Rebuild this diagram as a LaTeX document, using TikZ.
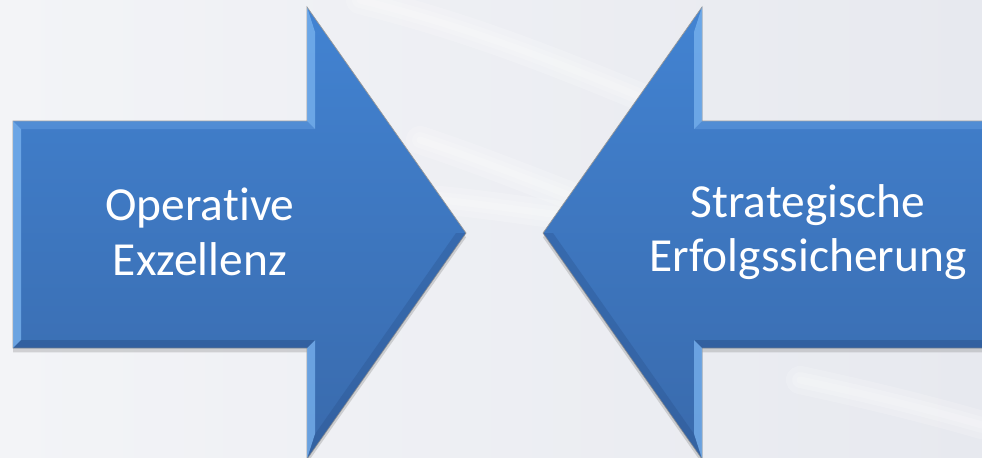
\documentclass[tikz,border=0pt]{standalone}
\usepackage{fontspec}
\setmainfont{Carlito}[Ligatures={NoCommon}]
\usepackage{xcolor}
\usepackage{tikz}
\usetikzlibrary{shadows}
\definecolor{arrowtop}{RGB}{66,131,210}
\definecolor{arrowbot}{RGB}{57,106,172}
\definecolor{bevellight}{RGB}{122,180,240}
\definecolor{beveldark}{RGB}{40,78,135}
\definecolor{bgleft}{RGB}{243,244,247}
\definecolor{bgright}{RGB}{231,233,239}

\begin{document}
\begin{tikzpicture}[
    x=0.02cm, y=-0.02cm,
    arrowshape/.style={top color=arrowtop, bottom color=arrowbot, draw=black!40, line width=0.4pt,
      drop shadow={opacity=0.3, shadow xshift=0pt, shadow yshift=-2.5pt}},
    lightfacet/.style={fill=bevellight, fill opacity=0.75},
    darkfacet/.style={fill=beveldark, fill opacity=0.45},
    arrowtext/.style={text=white, font=\fontsize{27}{31}\selectfont, align=center},
    streak/.style={draw=white, line cap=round, draw opacity=0.18},
  ]
    \clip (0,0) rectangle (982,457);
    \shade[left color=bgleft, right color=bgright] (0,0) rectangle (982,457);
    % light streaks, soft by stacking
    \foreach \w in {4,9,16} {
      \draw[streak, line width=\w] (360,0) .. controls (460,25) and (540,55) .. (660,105);
      \draw[streak, line width=\w] (420,140) .. controls (480,160) and (530,180) .. (620,215);
      \draw[streak, line width=\w] (440,200) .. controls (490,205) and (520,210) .. (560,215);
      \draw[streak, line width=\w] (800,380) .. controls (870,395) and (930,410) .. (982,425);
    }
    % both arrows, the second one mirrored
    \foreach \flip/\off in {1/0, -1/1009} {
      \begin{scope}[shift={(\off,0)}, xscale=\flip]
        \path[arrowshape] (13,121) -- (307,121) -- (307,7) -- (466,233) -- (307,459) -- (307,348) -- (13,348) -- cycle;
        \fill[lightfacet] (13,121) -- (21,129) -- (21,340) -- (13,348) -- cycle;
        \fill[lightfacet, fill opacity=0.3] (13,121) -- (307,121) -- (315,129) -- (21,129) -- cycle;
        \fill[lightfacet] (307,121) -- (307,7) -- (315,32) -- (315,129) -- cycle;
        \fill[lightfacet] (307,348) -- (307,459) -- (315,434) -- (315,340) -- cycle;
        \fill[darkfacet] (13,348) -- (21,340) -- (315,340) -- (307,348) -- cycle;
        \fill[darkfacet, fill opacity=0.3] (466,233) -- (307,459) -- (315,434) -- (456,233) -- cycle;
      \end{scope}
    }
    \node[arrowtext] (opex) at (200,232) {Operative\\Exzellenz};
    \node[arrowtext] (strat) at (808,232) {Strategische\\Erfolgssicherung};
  \end{tikzpicture}
\end{document}
